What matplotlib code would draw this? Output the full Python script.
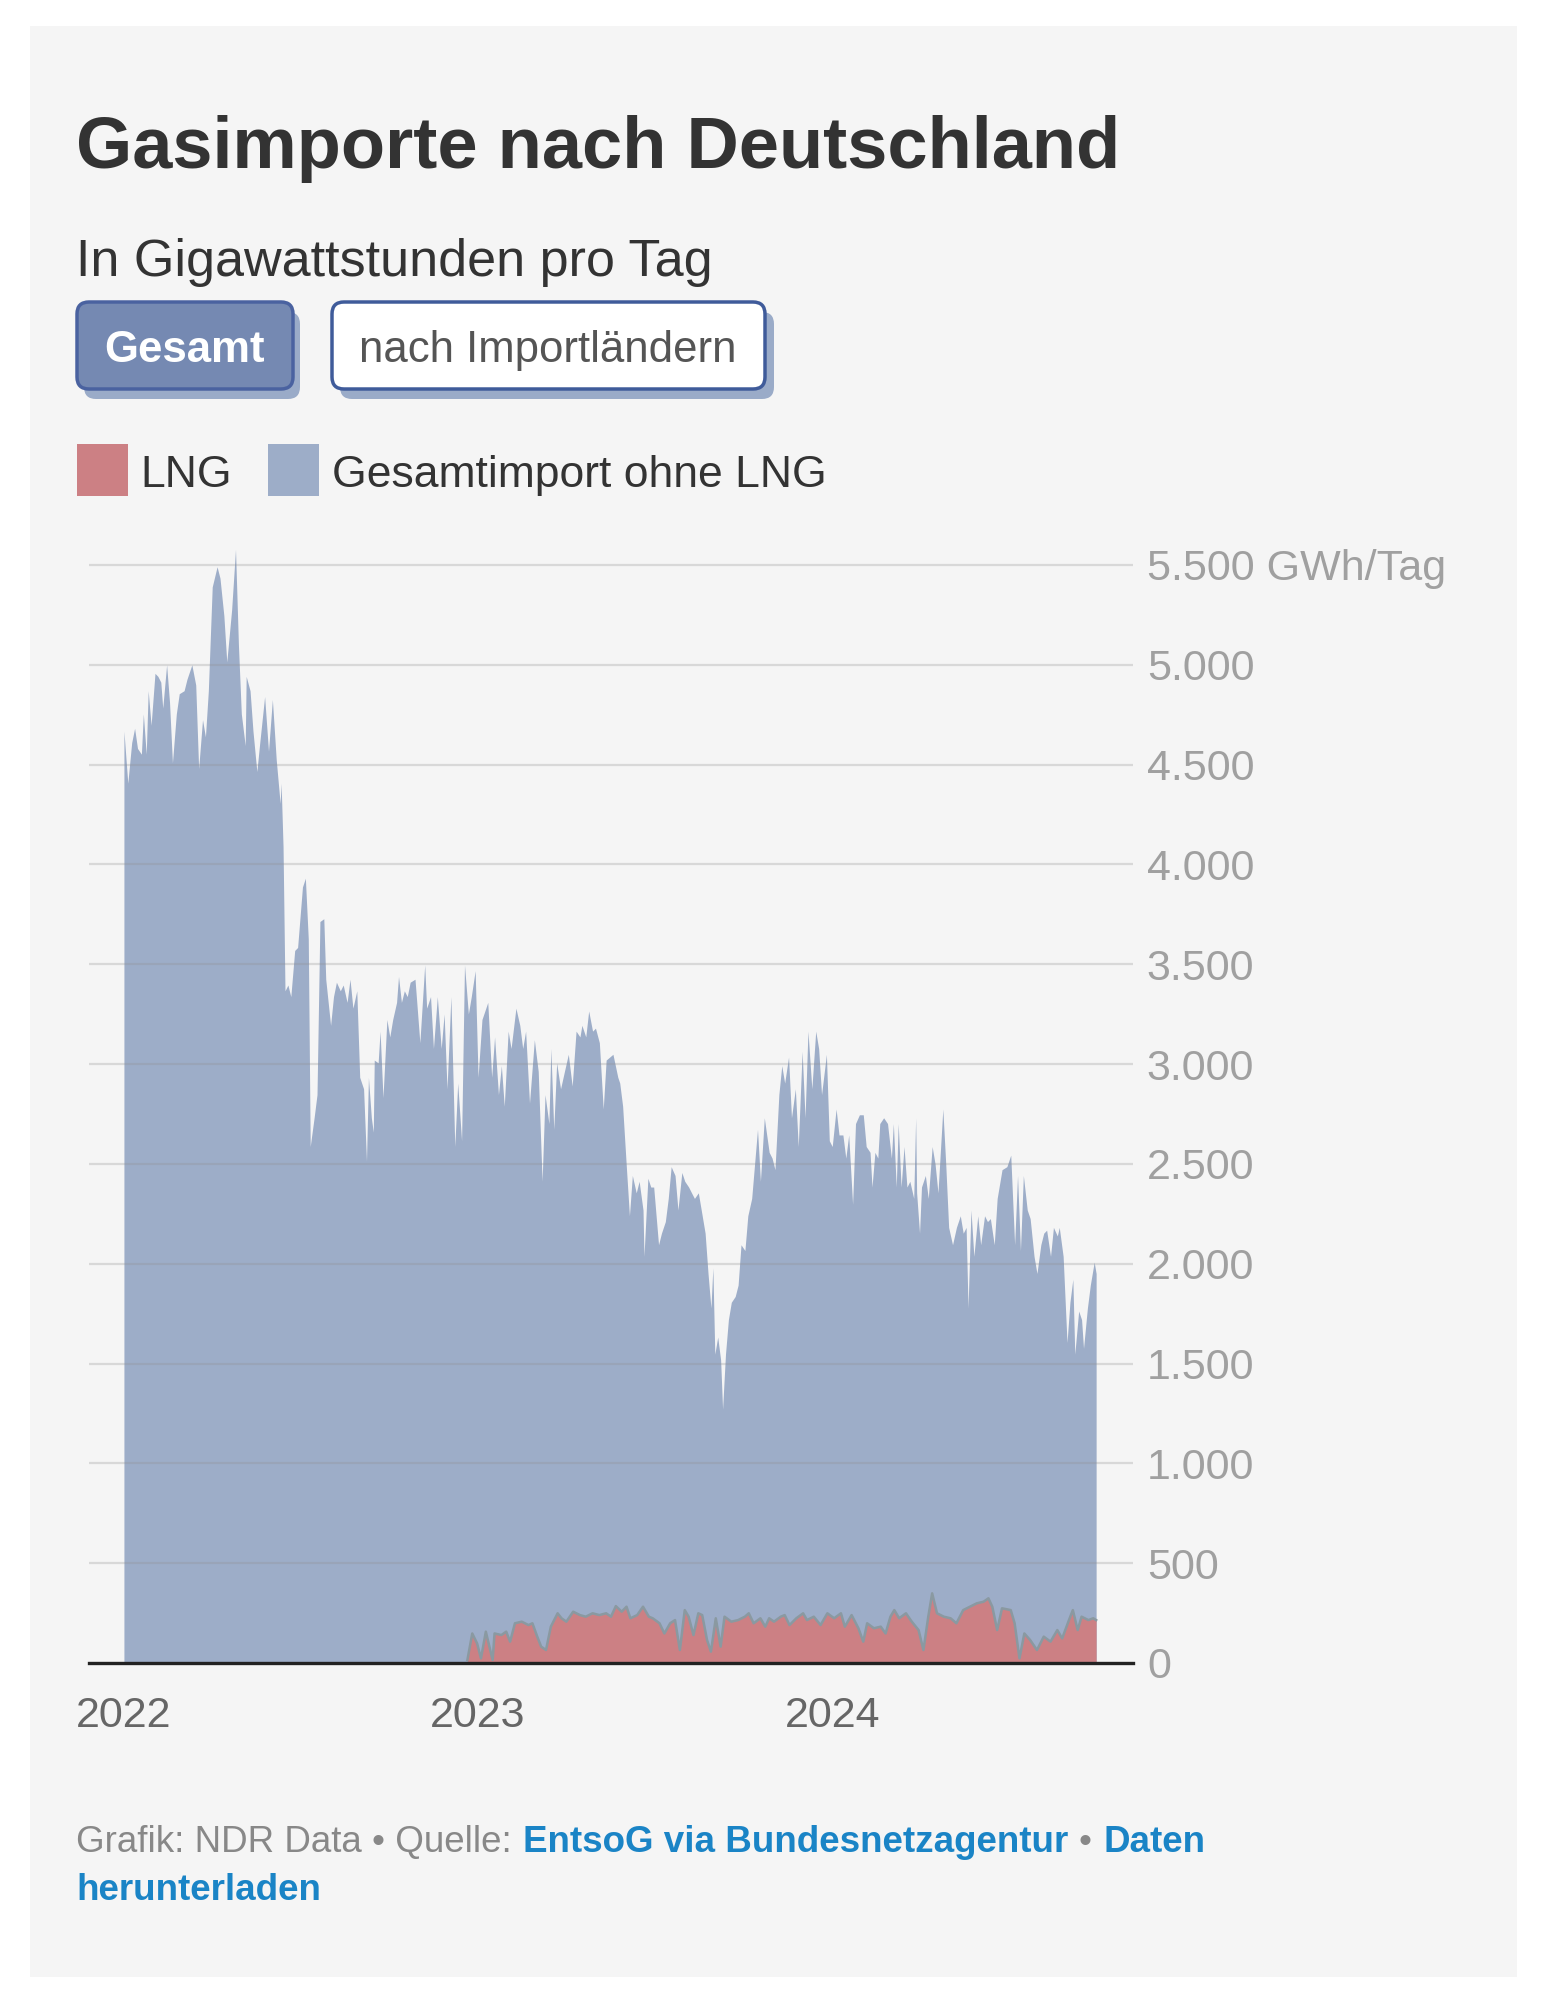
import matplotlib
matplotlib.use("Agg")
import matplotlib.pyplot as plt
from matplotlib.patches import FancyBboxPatch, Rectangle
import pandas as pd

plt.rcParams['font.family'] = ['Liberation Sans', 'DejaVu Sans']

START = pd.Timestamp('2022-01-01')

# Gesamtimport (Oberkante der Flaeche): Tage seit 1.1.2022 und GWh/Tag
total_days = [
    0, 4, 8, 11, 14, 18, 20, 23, 25, 28, 32, 35, 38, 40, 44, 47, 50, 54, 57, 62,
    65, 70, 74, 77, 81, 84, 87, 91, 96, 99, 103, 106, 111, 115, 118, 121, 125, 126, 130, 133,
    137, 140, 145, 149, 153, 157, 161, 162, 164, 166, 169, 172, 176, 179, 184, 187, 190, 192, 196, 199,
    202, 206, 208, 213, 216, 219, 223, 226, 230, 233, 236, 240, 243, 247, 250, 252, 255, 257, 258, 262,
    264, 267, 271, 274, 277, 281, 283, 286, 289, 292, 295, 300, 305, 310, 312, 316, 319, 323, 327, 330,
    333, 337, 341, 344, 348, 351, 355, 358, 362, 365, 369, 375, 379, 382, 386, 389, 392, 396, 399, 404,
    408, 411, 414, 418, 423, 427, 431, 434, 438, 440, 443, 446, 450, 454, 458, 462, 466, 470, 472, 476,
    479, 483, 486, 490, 494, 497, 504, 509, 511, 514, 518, 521, 524, 528, 531, 535, 536, 540, 543, 546,
    551, 554, 558, 561, 564, 568, 571, 575, 578, 582, 585, 588, 592, 595, 599, 602, 605, 607, 609, 612,
    615, 617, 620, 623, 626, 630, 633, 636, 640, 643, 647, 650, 653, 656, 660, 665, 668, 671, 675, 678,
    681, 685, 688, 692, 695, 699, 702, 705, 709, 713, 716, 719, 724, 727, 730, 734, 737, 741, 744, 747,
    751, 754, 758, 762, 765, 769, 771, 774, 777, 779, 783, 787, 791, 793, 796, 798, 801, 804, 807, 810,
    814, 816, 817, 820, 822, 826, 829, 833, 836, 839, 844, 847, 850, 854, 858, 862, 865, 868, 870, 873,
    876, 880, 883, 887, 890, 893, 897, 900, 905, 910, 914, 918, 921, 924, 927, 931, 934, 938, 941, 945,
    948, 951, 955, 958, 962, 964, 968, 972, 975, 978, 980, 984, 987, 989, 993, 996, 1000, 1002,
]
total_vals = [
    4668, 4407, 4610, 4682, 4581, 4552, 4754, 4552, 4870, 4697, 4957, 4942, 4913, 4783, 5000, 4812, 4509, 4754, 4855, 4870,
    4928, 5000, 4899, 4480, 4725, 4639, 4870, 5390, 5491, 5434, 5246, 5014, 5275, 5578, 5101, 4754, 4595, 4942, 4870, 4668,
    4465, 4610, 4841, 4567, 4826, 4523, 4306, 4407, 4090, 3367, 3396, 3338, 3569, 3584, 3887, 3931, 3627, 2587, 2731, 2847,
    3714, 3728, 3425, 3194, 3338, 3410, 3367, 3396, 3309, 3425, 3280, 3367, 2934, 2876, 2514, 2934, 2731, 2659, 3020, 3006,
    3165, 2832, 3223, 3136, 3223, 3309, 3439, 3309, 3367, 3338, 3410, 3425, 3107, 3497, 3280, 3338, 3078, 3338, 3078, 3251,
    2876, 3338, 2587, 2905, 2616, 3497, 3251, 3338, 3468, 2934, 3223, 3309, 2934, 3136, 2847, 2992, 2789, 3165, 3078, 3280,
    3194, 3078, 3165, 2804, 3122, 2963, 2413, 2847, 2702, 3078, 2673, 3006, 2876, 2963, 3049, 2890, 3165, 3136, 3194, 3136,
    3266, 3165, 3180, 3107, 2775, 3020, 3049, 2934, 2905, 2789, 2471, 2240, 2442, 2355, 2413, 2269, 2037, 2428, 2384, 2384,
    2095, 2153, 2211, 2327, 2486, 2442, 2269, 2457, 2413, 2384, 2355, 2327, 2355, 2269, 2153, 1951, 1778, 1980, 1547, 1633,
    1518, 1272, 1547, 1720, 1807, 1836, 1893, 2095, 2066, 2240, 2327, 2500, 2673, 2413, 2731, 2558, 2529, 2471, 2847, 2992,
    2905, 3035, 2731, 2876, 2587, 3064, 2731, 3165, 2876, 3165, 3078, 2847, 3049, 2616, 2587, 2775, 2645, 2645, 2529, 2645,
    2298, 2702, 2746, 2746, 2587, 2558, 2384, 2558, 2529, 2702, 2731, 2702, 2529, 2702, 2384, 2702, 2384, 2587, 2384, 2413,
    2327, 2731, 2355, 2153, 2384, 2442, 2327, 2587, 2500, 2355, 2775, 2500, 2182, 2095, 2182, 2240, 2153, 2182, 1778, 2269,
    2037, 2240, 2095, 2240, 2211, 2226, 2095, 2327, 2471, 2486, 2544, 2095, 2442, 2066, 2442, 2269, 2226, 2037, 1951, 2095,
    2153, 2168, 2037, 2182, 2139, 2182, 2037, 1605, 1807, 1922, 1547, 1763, 1720, 1576, 1778, 1893, 2008, 1951,
]

# LNG-Importe: Tage seit 1.1.2022 und GWh/Tag
lng_days = [
    354, 359, 364, 368, 373, 380, 382, 389, 394, 398, 403, 410, 417, 421, 426, 430, 435, 440, 447, 451,
    456, 463, 470, 476, 483, 490, 497, 502, 507, 513, 518, 522, 529, 535, 541, 545, 552, 557, 563, 568,
    573, 578, 582, 587, 592, 596, 601, 605, 610, 615, 619, 626, 633, 640, 644, 649, 656, 661, 665, 670,
    677, 681, 686, 693, 700, 704, 711, 718, 725, 732, 739, 743, 750, 757, 762, 766, 773, 780, 785, 790,
    794, 799, 806, 812, 819, 824, 829, 833, 838, 845, 852, 858, 865, 872, 879, 886, 891, 895, 900, 905,
    914, 918, 923, 928, 934, 941, 948, 955, 962, 967, 974, 978, 983, 987, 994, 999, 1002,
]
lng_vals = [
    15, 148, 98, 23, 157, 15, 148, 140, 157, 107, 199, 207, 190, 199, 132, 82, 65, 182, 249, 224,
    207, 257, 240, 232, 249, 240, 249, 232, 285, 257, 282, 224, 240, 282, 232, 224, 199, 148, 199, 215,
    65, 265, 232, 140, 249, 240, 115, 57, 224, 82, 232, 207, 215, 232, 249, 199, 224, 182, 224, 207,
    232, 240, 190, 224, 249, 215, 232, 190, 249, 224, 249, 182, 240, 174, 107, 199, 174, 182, 148, 232,
    265, 224, 249, 207, 165, 65, 232, 349, 249, 232, 224, 199, 265, 282, 299, 307, 324, 282, 165, 274,
    265, 199, 23, 148, 115, 65, 132, 107, 165, 123, 215, 265, 165, 232, 215, 224, 215,
]

year_ticks = ['2022-01-01', '2023-01-01', '2024-01-01']
year_labels = ['2022', '2023', '2024']
y_ticks = [0, 500, 1000, 1500, 2000, 2500, 3000, 3500, 4000, 4500, 5000, 5500]
y_labels = ['0', '500', '1.000', '1.500', '2.000', '2.500', '3.000', '3.500',
            '4.000', '4.500', '5.000', '5.500 GWh/Tag']

BLUE = '#9dadc8'
RED = '#cc8084'
LNG_LINE = '#8a99a1'
PANEL = '#f5f5f5'
DARK = '#333333'
LINK = '#1a84c6'

fig = plt.figure(figsize=(15.52, 20), dpi=100)
fig.patch.set_facecolor('white')

# Hintergrund-Achse in Pixelkoordinaten
bg = fig.add_axes([0, 0, 1, 1])
bg.set_xlim(0, 1552)
bg.set_ylim(2000, 0)
bg.axis('off')
bg.add_patch(Rectangle((30, 26), 1487, 1951, color=PANEL, lw=0))

bg.text(76, 168, 'Gasimporte nach Deutschland', fontsize=52, fontweight='bold',
        color=DARK, va='baseline', ha='left')
bg.text(76, 276, 'In Gigawattstunden pro Tag', fontsize=37.5, color=DARK,
        va='baseline', ha='left')

# Buttons
bg.add_patch(FancyBboxPatch((84, 312), 216, 87, boxstyle='round,pad=0,rounding_size=12',
                            fc='#9aabc8', lw=0))
bg.add_patch(FancyBboxPatch((77, 302), 216, 87, boxstyle='round,pad=0,rounding_size=12',
                            fc='#7589b2', ec='#4a62a0', lw=2.5))
bg.text(185, 362, 'Gesamt', fontsize=31.5, fontweight='bold', color='white',
        ha='center', va='baseline')
bg.add_patch(FancyBboxPatch((340, 312), 434, 87, boxstyle='round,pad=0,rounding_size=12',
                            fc='#9aabc8', lw=0))
bg.add_patch(FancyBboxPatch((332, 302), 433, 87, boxstyle='round,pad=0,rounding_size=12',
                            fc='white', ec='#3f5b9a', lw=2.5))
bg.text(548, 362, 'nach Importländern', fontsize=31.5, color='#555555',
        ha='center', va='baseline')

# Legende
bg.add_patch(Rectangle((77, 444), 51, 52, color=RED, lw=0))
bg.text(140, 487, 'LNG', fontsize=32, color=DARK, va='baseline')
bg.add_patch(Rectangle((268, 444), 51, 52, color=BLUE, lw=0))
bg.text(332, 487, 'Gesamtimport ohne LNG', fontsize=32, color=DARK, va='baseline')

# Diagramm
ax = fig.add_axes([89 / 1552, 337 / 2000, 1044 / 1552, 1133 / 2000])
ax.patch.set_alpha(0)

t_total = (START + pd.to_timedelta(total_days, unit='D')).to_numpy()
t_lng = (START + pd.to_timedelta(lng_days, unit='D')).to_numpy()

ax.fill_between(t_total, 0, total_vals, color=BLUE, lw=0, zorder=1)
ax.fill_between(t_lng, 0, lng_vals, color=RED, lw=0, zorder=1.5)
ax.plot(t_lng, lng_vals, color=LNG_LINE, lw=1.8, zorder=1.8)

ax.set_xlim(START - pd.Timedelta(days=36), START + pd.Timedelta(days=1040))
ax.set_ylim(0, 5675)

ax.set_yticks(y_ticks)
ax.set_yticklabels(y_labels)
ax.yaxis.tick_right()
ax.tick_params(axis='y', length=0, pad=10, labelsize=31, labelcolor='#a0a0a0')
ax.grid(axis='y', color='#8f8f8f', alpha=0.28, lw=1.6, zorder=2.5)
ax.set_axisbelow(False)

ax.set_xticks(pd.to_datetime(year_ticks).to_numpy())
ax.set_xticklabels(year_labels)
ax.tick_params(axis='x', length=0, pad=24, labelsize=31, labelcolor='#666666')

for s in ax.spines.values():
    s.set_visible(False)
ax.axhline(0, color='#222222', lw=2.4, zorder=3, clip_on=False)

# Fusszeile
renderer = fig.canvas.get_renderer()
x = 76
line1 = [('Grafik: NDR Data • Quelle:', '#888888', 'normal'),
         ('EntsoG via Bundesnetzagentur', LINK, 'bold'),
         ('•', '#888888', 'normal'),
         ('Daten', LINK, 'bold')]
for txt, col, w in line1:
    t = bg.text(x, 1852, txt, fontsize=26.5, color=col, fontweight=w, va='baseline')
    bb = t.get_window_extent(renderer)
    x = bb.x1 + 11
bg.text(76, 1900, 'herunterladen', fontsize=26.5, color=LINK, fontweight='bold',
        va='baseline')

fig.savefig('out.png', dpi=100)
